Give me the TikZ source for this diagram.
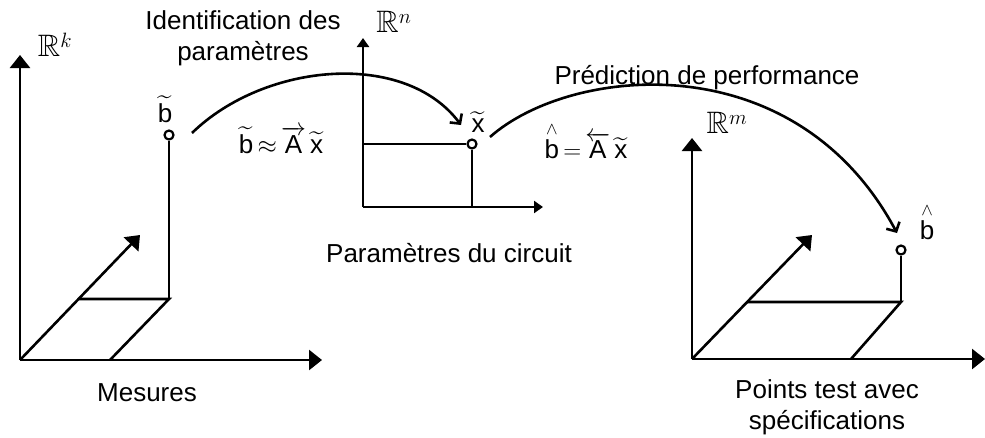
\documentclass[tikz,border=0pt]{standalone}
\usepackage{amssymb}
\usepackage{amsmath}
\usepackage{fontspec}
\setmainfont{Liberation Sans}
\usetikzlibrary{arrows.meta}
\begin{document}
\begin{tikzpicture}[x=1pt,y=-1pt,
  axis/.style={line width=2.6pt,-{Triangle[length=13pt,width=20pt]}},
  smallaxis/.style={line width=2.6pt,-{Triangle[length=9pt,width=12pt]}},
  plain/.style={line width=2.6pt},
  curvearrow/.style={line width=2.6pt,-{Straight Barb[length=7pt,width=15pt]}},
  pt/.style={circle,draw,line width=2.2pt,minimum size=9pt,inner sep=0pt},
  lbl/.style={inner sep=0pt,font=\fontsize{26}{31}\selectfont,align=center},
  sp/.style={inner sep=0pt,font=\fontsize{31}{36}\selectfont}]
\useasboundingbox (0,0) rectangle (985,437);
% ---- left axes (R^k)
\coordinate (o1) at (20,360);
\coordinate (y1) at (20,55);
\coordinate (x1) at (322,360);
\coordinate (d1) at (140,235);
\coordinate (p1a) at (79,299);
\coordinate (p1b) at (169,299);
\coordinate (p1c) at (110,360);
\node[pt] (b1) at (169,135) {};
\draw[axis] (o1) -- (y1);
\draw[axis] (o1) -- (x1);
\draw[axis] (o1) -- (d1);
\draw[plain] (p1a) -- (p1b) -- (p1c);
\draw[plain] (p1b) -- (b1);
\node[sp] (rk) at (55,45) {$\mathbb{R}^k$};
\node[lbl] (btl) at (165,109) {$\widetilde{\mbox{b}}$};
\node[lbl] (mes) at (147,393) {Mesures};
% ---- middle axes (R^n)
\coordinate (o2) at (363,207);
\coordinate (y2) at (363,38);
\coordinate (x2) at (543,207);
\coordinate (q2) at (363,144);
\coordinate (f2) at (472,207);
\node[pt] (xc) at (472,144) {};
\draw[smallaxis] (o2) -- (y2);
\draw[smallaxis] (o2) -- (x2);
\draw[plain] (q2) -- (xc);
\draw[plain] (xc) -- (f2);
\node[sp] (rn) at (394,22) {$\mathbb{R}^n$};
\node[lbl] (xtl) at (478,122) {$\widetilde{\mbox{x}}$};
\node[lbl] (par) at (449,253) {Paramètres du circuit};
% ---- right axes (R^m)
\coordinate (o3) at (692,359);
\coordinate (y3) at (692,138);
\coordinate (x3) at (985,359);
\coordinate (d3) at (812,235);
\coordinate (p3a) at (747,302);
\coordinate (p3b) at (901,302);
\coordinate (p3c) at (851,359);
\node[pt] (bh) at (901,250) {};
\draw[axis] (o3) -- (y3);
\draw[axis] (o3) -- (x3);
\draw[axis] (o3) -- (d3);
\draw[plain] (p3a) -- (p3b) -- (p3c);
\draw[plain] (p3b) -- (bh);
\node[sp] (rm) at (727,123) {$\mathbb{R}^m$};
\node[lbl] (bht) at (927,222) {$\overset{\wedge}{\mbox{b}}$};
\node[lbl] (pts) at (827,407) {Points test avec\\spécifications};
% ---- curved arrows and formulas
\coordinate (c1s) at (192,133);
\coordinate (c1e) at (461,125);
\draw[curvearrow] (c1s) .. controls (265,62) and (405,50) .. (c1e);
\coordinate (c2s) at (490,137);
\coordinate (c2e) at (897,233);
\draw[curvearrow] (c2s) .. controls (570,66) and (795,42) .. (c2e);
\node[lbl] (f1) at (281,140) {$\widetilde{\mbox{b}}\,{\approx}\,\overrightarrow{\mbox{A}}\,\widetilde{\mbox{x}}$};
\node[lbl] (f2t) at (586,141) {$\overset{\wedge}{\mbox{b}}\,{=}\,\overleftarrow{\mbox{A}}\,\widetilde{\mbox{x}}$};
\node[lbl] (idp) at (243,38) {Identification des\\paramètres};
\node[lbl,anchor=base] (pred) at (707,84) {Prédiction de performance};
\end{tikzpicture}
\end{document}
